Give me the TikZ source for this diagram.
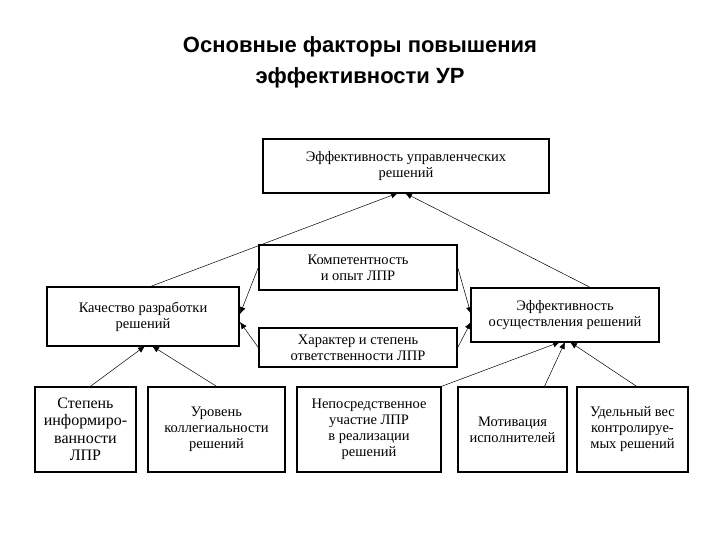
\documentclass[tikz,border=0pt]{standalone}
\usepackage{fontspec}
\setmainfont{Liberation Serif}
\newfontfamily\titlefont{Liberation Sans}
\usetikzlibrary{arrows.meta}
\begin{document}
\begin{tikzpicture}[x=1pt,y=-1pt,
 box/.style={draw,line width=1.4pt,align=center,font=\fontsize{14.5}{16}\selectfont,inner sep=0pt},
 bbox/.style={box,font=\fontsize{16}{17.5}\selectfont},
 arr/.style={-{Latex[length=7pt,width=6pt]},line width=0.5pt}]
\useasboundingbox (0,0) rectangle (720,540);
\node[font=\titlefont\bfseries\fontsize{22}{31}\selectfont,align=center] (title) at (360,62) {Основные факторы повышения\\эффективности УР};
\node[box,minimum width=286,minimum height=54] (top) at (406,166) {Эффективность управленческих\\решений};
\node[box,minimum width=198,minimum height=45] (komp) at (358,267.5) {Компетентность\\и опыт ЛПР};
\node[box,minimum width=198,minimum height=39] (har) at (358,347.5) {Характер и степень\\ответственности ЛПР};
\node[box,minimum width=192,minimum height=59] (kach) at (143,316.5) {Качество разработки\\решений};
\node[box,minimum width=188,minimum height=54] (eff) at (565,315) {Эффективность\\осуществления решений};
\node[bbox,minimum width=101,minimum height=85] (b1) at (85.5,429.5) {Степень\\информиро-\\ванности\\ЛПР};
\node[box,minimum width=137,minimum height=85] (b2) at (216.5,429.5) {Уровень\\коллегиальности\\решений};
\node[box,minimum width=144,minimum height=85] (b3) at (369,429.5) {Непосредственное\\участие ЛПР\\в реализации\\решений};
\node[box,minimum width=109,minimum height=85] (b4) at (512.5,429.5) {Мотивация\\исполнителей};
\node[box,minimum width=111,minimum height=85] (b5) at (632.5,429.5) {Удельный вес\\контролируе-\\мых решений};
\coordinate (t1) at (398,193); \coordinate (t2) at (405,193);
\coordinate (k1) at (240,314); \coordinate (k2) at (240,322);
\coordinate (e1) at (471,314); \coordinate (e2) at (471,322);
\coordinate (kb1) at (145,346); \coordinate (kb2) at (152,346);
\coordinate (eb1) at (560,342); \coordinate (eb2) at (565,342); \coordinate (eb3) at (570,342);
\draw[arr] (kach.north) ++(8,0) -- (t1);
\draw[arr] (eff.north) ++(25,0) -- (t2);
\draw[arr] (komp.west) -- (k1);
\draw[arr] (har.west) -- (k2);
\draw[arr] (komp.east) -- (e1);
\draw[arr] (har.east) -- (e2);
\draw[arr] (b1.north) ++(5,0) -- (kb1);
\draw[arr] (b2.north) -- (kb2);
\draw[arr] (b3.north east) -- (eb1);
\draw[arr] (b4.north) ++(32,0) -- (eb2);
\draw[arr] (b5.north) ++(4,0) -- (eb3);
\end{tikzpicture}
\end{document}
